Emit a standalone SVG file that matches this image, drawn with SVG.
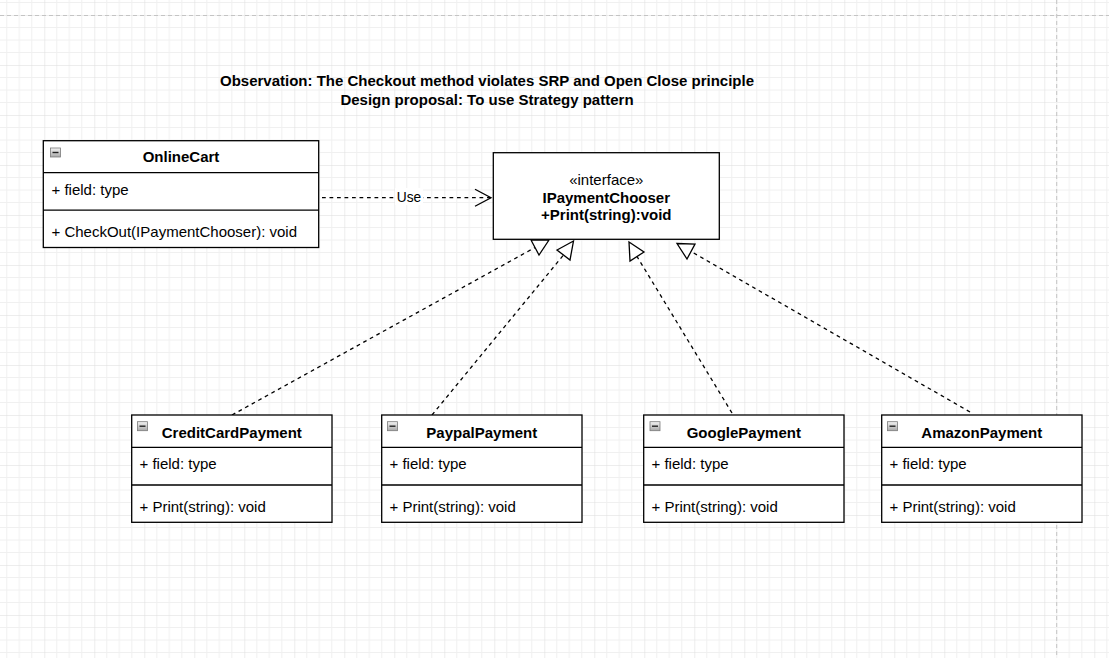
<svg xmlns="http://www.w3.org/2000/svg" width="1109" height="658" viewBox="0 0 1109 658">
  <defs>
    <pattern id="grid" patternUnits="userSpaceOnUse" x="44.3" y="15" width="50" height="50">
      <path d="M12.5 0V50M25 0V50M37.5 0V50M0 12.5H50M0 25H50M0 37.5H50" stroke="#f0f0f0" stroke-width="1" fill="none"/>
      <path d="M0 0V50M0 0H50" stroke="#dcdcdc" stroke-width="1" fill="none"/>
    </pattern>
    <linearGradient id="ic" x1="0" y1="0" x2="0" y2="1">
      <stop offset="0" stop-color="#f4f4f4"/>
      <stop offset="1" stop-color="#a8a8a8"/>
    </linearGradient>
    <marker id="open" viewBox="0 0 20 20" refX="17" refY="10" markerWidth="20" markerHeight="20" markerUnits="userSpaceOnUse" orient="auto">
      <path d="M1 1.5L17 10L1 18.5" fill="none" stroke="#000" stroke-width="1.3"/>
    </marker>
  </defs>
  <style>
    .box{fill:#fff;stroke:#000;stroke-width:1.3}
    .ln{stroke:#000;stroke-width:1.3;fill:none}
    .dash{stroke:#000;stroke-width:1.3;fill:none;stroke-dasharray:3.75 3.75}
    .tri{fill:#fff;stroke:#000;stroke-width:1.3}
    .t{font-family:"Liberation Sans",Arial,sans-serif;font-size:15px;fill:#000}
    .b{font-weight:bold}
    .c{text-anchor:middle}
    .ic{fill:url(#ic);stroke:#7a7a7a;stroke-width:0.8}
    .im{stroke:#222;stroke-width:1.4}
    .pb{stroke:#c4c4c4;stroke-width:1;stroke-dasharray:4 3;fill:none}
  </style>

  <rect width="1109" height="658" fill="#fff"/>
  <rect width="1109" height="658" fill="url(#grid)"/>
  <path class="pb" d="M0 15.5H1109M1056.7 0V658"/>

  <g id="title">
    <text class="t b c" x="487" y="85.5">Observation: The Checkout method violates SRP and Open Close principle</text>
    <text class="t b c" x="487" y="104.5">Design proposal: To use Strategy pattern</text>
  </g>

  <g id="connectors">
    <path class="dash" d="M322 197.7H491" marker-end="url(#open)"/>
    <rect x="395" y="188" width="28" height="17" fill="#fff"/>
    <text class="t c" x="409" y="202" style="font-size:13.75px">Use</text>

    <path class="dash" d="M232 415L535 247.5"/>
    <path class="tri" d="M549 240L531 240L539 255Z"/>

    <path class="dash" d="M432 415L563.5 255"/>
    <path class="tri" d="M573.5 241L557 250L570 260Z"/>

    <path class="dash" d="M732 413L637 256.5"/>
    <path class="tri" d="M629 242L644 252L630 261Z"/>

    <path class="dash" d="M970 412L691 251.5"/>
    <path class="tri" d="M677 243.5L695 244L687 259Z"/>
  </g>

  <g id="OnlineCart">
    <rect class="box" x="43.3" y="140.7" width="275.4" height="106.8"/>
    <path class="ln" d="M43.3 172.7H318.7M43.3 210.2H318.7"/>
    <rect class="ic" x="50.5" y="148" width="10" height="9"/>
    <path class="im" d="M52.5 152.5H58.5"/>
    <text class="t b c" x="181" y="162">OnlineCart</text>
    <text class="t" x="51.5" y="194.5">+ field: type</text>
    <text class="t" x="51.5" y="236.5">+ CheckOut(IPaymentChooser): void</text>
  </g>

  <g id="IPaymentChooser">
    <rect class="box" x="493.3" y="152.7" width="226" height="86.6"/>
    <text class="t c" x="606.3" y="184.5">«interface»</text>
    <text class="t b c" x="606.3" y="202.5">IPaymentChooser</text>
    <text class="t b c" x="606.3" y="220">+Print(string):void</text>
  </g>

  <g id="CreditCardPayment">
    <rect class="box" x="131.7" y="415" width="200.3" height="107.3"/>
    <path class="ln" d="M131.7 447.3H332M131.7 485H332"/>
    <rect class="ic" x="137.5" y="421.7" width="10" height="9"/>
    <path class="im" d="M139.5 426.2H145.5"/>
    <text class="t b c" x="231.8" y="437.5">CreditCardPayment</text>
    <text class="t" x="139.5" y="469">+ field: type</text>
    <text class="t" x="139.5" y="512">+ Print(string): void</text>
  </g>

  <g id="PaypalPayment">
    <rect class="box" x="381.7" y="415" width="200.3" height="107.3"/>
    <path class="ln" d="M381.7 447.3H582M381.7 485H582"/>
    <rect class="ic" x="387.5" y="421.7" width="10" height="9"/>
    <path class="im" d="M389.5 426.2H395.5"/>
    <text class="t b c" x="481.8" y="437.5">PaypalPayment</text>
    <text class="t" x="389.5" y="469">+ field: type</text>
    <text class="t" x="389.5" y="512">+ Print(string): void</text>
  </g>

  <g id="GooglePayment">
    <rect class="box" x="643.7" y="415" width="200.3" height="107.3"/>
    <path class="ln" d="M643.7 447.3H844M643.7 485H844"/>
    <rect class="ic" x="650" y="421.7" width="10" height="9"/>
    <path class="im" d="M652 426.2H658"/>
    <text class="t b c" x="743.8" y="437.5">GooglePayment</text>
    <text class="t" x="651.5" y="469">+ field: type</text>
    <text class="t" x="651.5" y="512">+ Print(string): void</text>
  </g>

  <g id="AmazonPayment">
    <rect class="box" x="881.7" y="415" width="200.3" height="107.3"/>
    <path class="ln" d="M881.7 447.3H1082M881.7 485H1082"/>
    <rect class="ic" x="887.5" y="421.7" width="10" height="9"/>
    <path class="im" d="M889.5 426.2H895.5"/>
    <text class="t b c" x="981.8" y="437.5">AmazonPayment</text>
    <text class="t" x="889.5" y="469">+ field: type</text>
    <text class="t" x="889.5" y="512">+ Print(string): void</text>
  </g>
</svg>
